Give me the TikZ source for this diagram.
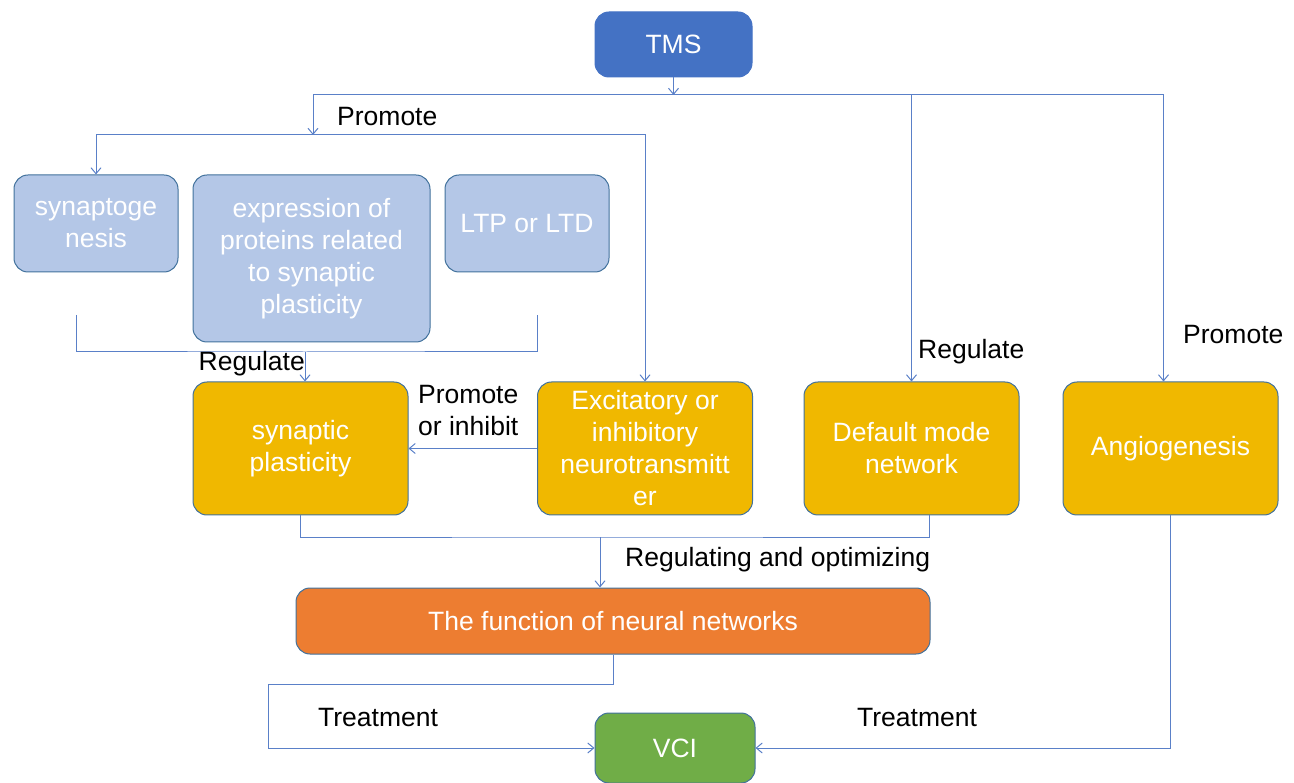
\documentclass[tikz,border=0pt]{standalone}
\usepackage{fontspec}
\setmainfont{Liberation Sans}
\usetikzlibrary{arrows.meta}
\definecolor{tmsblue}{HTML}{4472C4}
\definecolor{lightblue}{HTML}{B4C7E7}
\definecolor{gold}{HTML}{F0B800}
\definecolor{netorange}{HTML}{ED7D31}
\definecolor{vcigreen}{HTML}{70AD47}
\definecolor{boxedge}{HTML}{41719C}
\definecolor{linkblue}{HTML}{5A80C8}

\begin{document}
\begin{tikzpicture}[%
  x=1pt, y=-1pt,
  block/.style={rectangle, rounded corners=14pt, draw=boxedge, line width=1pt, text=white, align=center, inner sep=0pt},
  topic/.style={block, fill=tmsblue, draw=tmsblue},
  detail/.style={block, fill=lightblue},
  effect/.style={block, fill=gold, minimum width=215pt, minimum height=133pt},
  link/.style={draw=linkblue, line width=1pt},
  flow/.style={link, -{Straight Barb[length=6pt,width=10pt]}},
  tag/.style={anchor=west, inner sep=0pt},
  ]
  \useasboundingbox (0,0) rectangle (1294,783);
  {\fontsize{26.5}{32}\selectfont
    \node[topic, minimum width=157pt, minimum height=65pt] (tms) at (673.5,44.5) {TMS};
    \node[detail, minimum width=164pt, minimum height=97pt] (syn) at (96,223.5) {synaptoge\\nesis};
    \node[detail, minimum width=237pt, minimum height=167pt] (prot) at (311.5,258.5) {expression of\\proteins related\\to synaptic\\plasticity};
    \node[detail, minimum width=164pt, minimum height=97pt] (ltp) at (527,223.5) {LTP or LTD};
    \node[effect] (plast) at (300.5,448.5) {synaptic\\plasticity};
    \node[effect] (trans) at (645,448.5) {Excitatory or\\inhibitory\\neurotransmitt\\er};
    \node[effect] (dmn) at (911.5,448.5) {Default mode\\network};
    \node[effect] (angio) at (1170.5,448.5) {Angiogenesis};
    \node[block, fill=netorange, minimum width=634pt, minimum height=66pt] (net) at (613,621) {The function of neural networks};
    \node[block, fill=vcigreen, minimum width=160pt, minimum height=70pt] (vci) at (675,748) {VCI};
    \coordinate (split) at (673.5,95);
    \coordinate (fan) at (313,135);
    \coordinate (bl) at (76,315);
    \coordinate (br) at (537,315);
    \coordinate (brk) at (305,352);
    \coordinate (join) at (600,537);
    \coordinate (bend) at (268,684);
    \draw[flow] (tms) -- (split);
    \draw[flow] (split) -| (fan);
    \draw[flow] (split) -| (dmn.north);
    \draw[flow] (split) -| ([xshift=-7pt]angio.north);
    \draw[flow] (fan) -| (syn.north);
    \draw[flow] (fan) -| (trans.north);
    \draw[link] (bl) |- (brk) -| (br);
    \draw[flow] (brk) -- (brk |- plast.north);
    \draw[flow] (trans) -- (plast);
    \draw[link] (plast.south) |- (join) -| ([xshift=18pt]dmn.south);
    \draw[flow] (join) -- (join |- net.north);
    \draw[flow] (net.south) |- (bend) |- (vci.west);
    \draw[flow] (angio.south) |- (vci.east);
    \node[tag] (pro1) at (337,117) {Promote};
    \node[tag, anchor=east] (reg1) at (305,364) {Regulate};
    \node[tag, align=left] (proinh) at (418,411) {Promote\\or inhibit};
    \node[tag] (reg2) at (918,352) {Regulate};
    \node[tag] (pro2) at (1183,335) {Promote};
    \node[tag] (regopt) at (625,560) {Regulating and optimizing};
    \node[tag] (treat1) at (318,718) {Treatment};
    \node[tag] (treat2) at (857,718) {Treatment};
  }
\end{tikzpicture}
\end{document}
